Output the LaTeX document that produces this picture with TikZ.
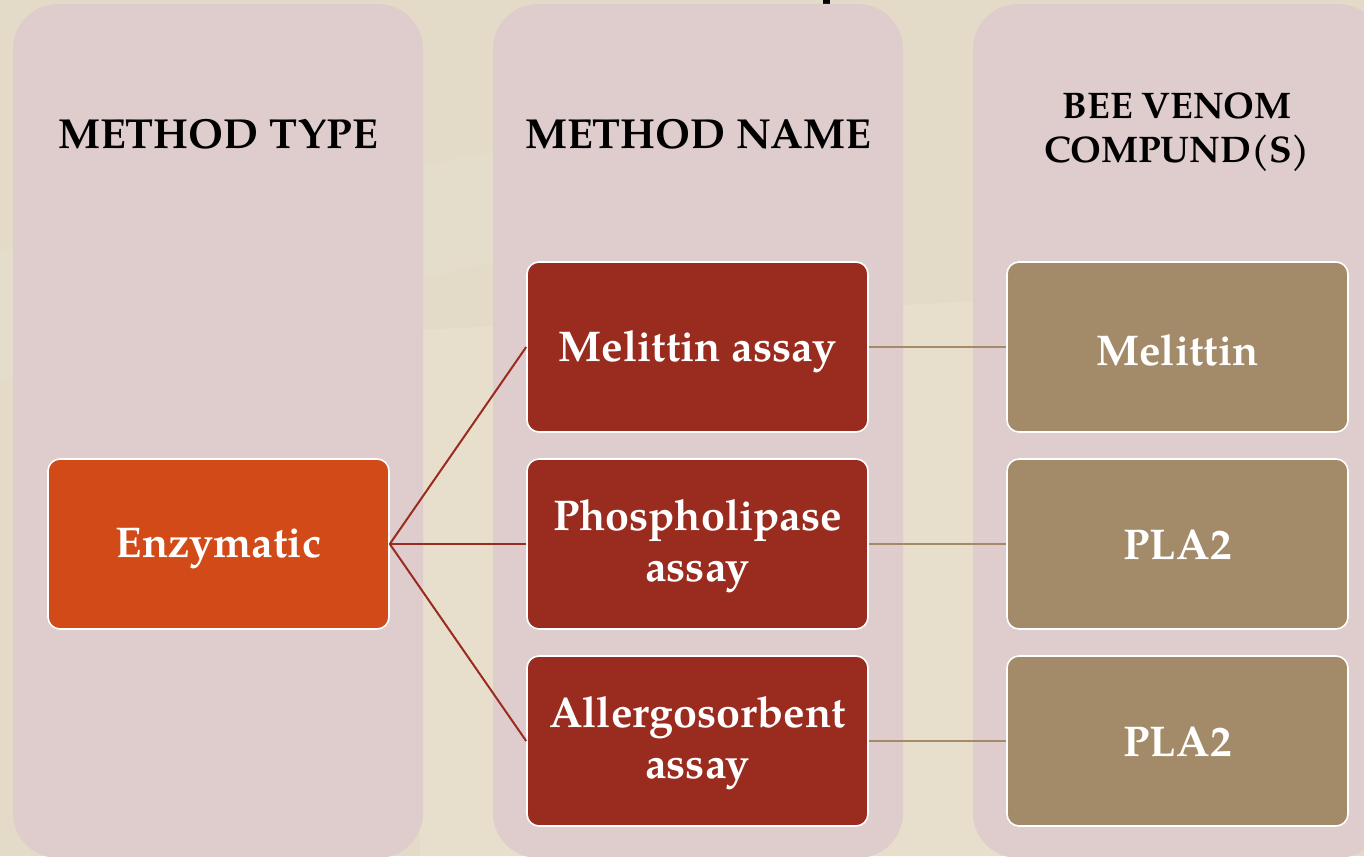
\documentclass[tikz,border=0pt]{standalone}
\usepackage{fontspec}
\setmainfont{TeX Gyre Pagella}
\definecolor{bgbeige}{HTML}{E3DBC7}
\definecolor{bglight}{HTML}{EAE1CF}
\definecolor{colpink}{HTML}{DFCCCC}
\definecolor{boxred}{HTML}{9A2B1F}
\definecolor{boxorange}{HTML}{D14A18}
\definecolor{boxtan}{HTML}{A38B69}
\tikzset{
  column/.style={fill=colpink, rounded corners=45pt},
  box/.style={rectangle, rounded corners=12pt, draw=white, line width=1.6pt,
    minimum width=341pt, minimum height=170pt, inner sep=0pt},
  boxtext/.style={text=white, align=center, inner sep=0pt,
    font=\fontsize{43}{51}\selectfont\bfseries},
  redbox/.style={box, fill=boxred},
  orangebox/.style={box, fill=boxorange},
  tanbox/.style={box, fill=boxtan},
  header/.style={text=black, align=center, inner sep=0pt},
  redline/.style={draw=boxred, line width=2pt},
  tanline/.style={draw=boxtan, line width=2pt}
}
\begin{document}
\begin{tikzpicture}[x=1pt,y=-1pt]
\useasboundingbox (0,0) rectangle (1364,856);
\fill[bgbeige] (0,0) rectangle (1364,856);
\begin{scope}
\clip (0,0) rectangle (1364,856);
% faint background texture
\fill[bglight, opacity=0.7] (420,330) -- (1000,300) -- (1000,856) -- (420,856) -- cycle;
\fill[white, opacity=0.08] (0,250) -- (500,150) -- (500,260) -- (0,380) -- cycle;
% black fragment of cut-off title
\fill[black] (823,0) rectangle (830,4);
% columns
\fill[column] (13,4) rectangle (423,858);
\fill[column] (493,4) rectangle (903,858);
\fill[column] (973,4) rectangle (1383,858);
\end{scope}
% headers
\node[header, font=\fontsize{42}{50}\selectfont\bfseries] (h1) at (218,134) {METHOD TYPE};
\node[header, font=\fontsize{42}{50}\selectfont\bfseries] (h2) at (698,134) {METHOD NAME};
\node[header, font=\fontsize{37}{44}\selectfont\bfseries] (h3) at (1177,132) {BEE VENOM\\COMPUND(S)};
% boxes
\node[orangebox] (enz) at (218.5,544) {};
\node[redbox] (m1) at (697.5,347) {};
\node[redbox] (m2) at (697.5,544) {};
\node[redbox] (m3) at (697.5,741) {};
\node[tanbox] (c1) at (1177.5,347) {};
\node[tanbox] (c2) at (1177.5,544) {};
\node[tanbox] (c3) at (1177.5,741) {};
% box texts
\node[boxtext] (enzt) at ([yshift=-5pt]enz.center) {Enzymatic};
\node[boxtext] (m1t) at ([yshift=-5pt]m1.center) {Melittin assay};
\node[boxtext] (m2t) at ([yshift=-2pt]m2.center) {Phospholipase\\assay};
\node[boxtext] (m3t) at ([yshift=-2pt]m3.center) {Allergosorbent\\assay};
\node[boxtext] (c1t) at ([yshift=-3pt]c1.center) {Melittin};
\node[boxtext] (c2t) at ([yshift=-1pt]c2.center) {PLA2};
\node[boxtext] (c3t) at ([yshift=-1pt]c3.center) {PLA2};
% connectors
\draw[redline] (enz.east) -- (m1.west);
\draw[redline] (enz.east) -- (m2.west);
\draw[redline] (enz.east) -- (m3.west);
\draw[tanline] (m1.east) -- (c1.west);
\draw[tanline] (m2.east) -- (c2.west);
\draw[tanline] (m3.east) -- (c3.west);
\end{tikzpicture}
\end{document}
